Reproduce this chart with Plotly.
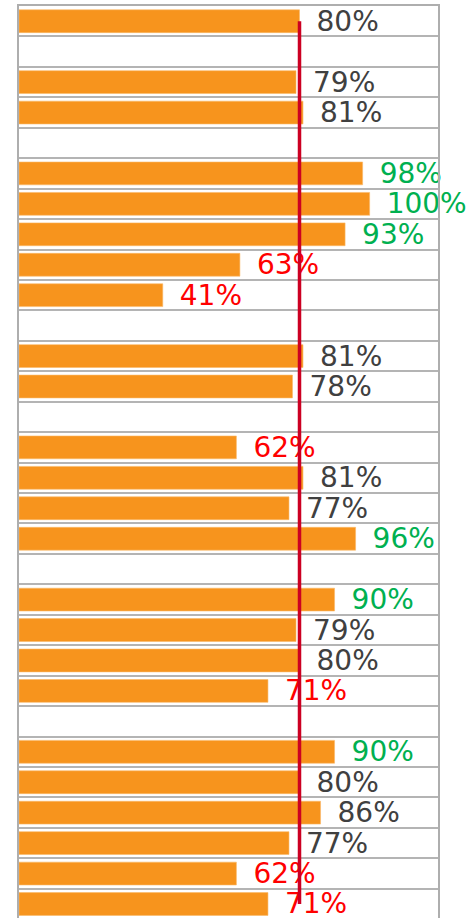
import plotly.graph_objects as go

# Row values (None = spacer row between groups)
values = [80, None, 79, 81, None, 98, 100, 93, 63, 41, None, 81, 78, None,
          62, 81, 77, 96, None, 90, 79, 80, 71, None, 90, 80, 86, 77, 62, 71]
rows = list(range(len(values)))
target = 80
green_min = 90
red_max = 71

def label_color(v):
    if v is None:
        return "#404040"
    if v >= green_min:
        return "#00B050"
    if v <= red_max:
        return "#FF0000"
    return "#404040"

texts = ["\u2002%d%%" % v if v is not None else "" for v in values]
colors = [label_color(v) for v in values]

fig = go.Figure()
fig.add_trace(go.Bar(
    x=values, y=rows, orientation="h",
    marker=dict(color="#F7941D", line=dict(color="#FAB968", width=0.6)),
    text=texts, textposition="outside", constraintext="none",
    textfont=dict(family="DejaVu Sans", size=28, color=colors),
    cliponaxis=False, hoverinfo="skip",
))
valid = [r for r, v in zip(rows, values) if v is not None]
fig.add_trace(go.Scatter(
    x=[target, target], y=[valid[0], valid[-1]], mode="lines",
    line=dict(color="#CC0022", width=3.5), hoverinfo="skip",
))

fig.update_layout(
    width=467, height=918,
    margin=dict(l=19, r=29, t=6, b=0),
    paper_bgcolor="white", plot_bgcolor="white",
    showlegend=False, bargap=0.25,
    font=dict(family="DejaVu Sans"),
)
fig.update_xaxes(range=[0, 119.5], showgrid=False, zeroline=False,
                 showticklabels=False, ticks="", side="top",
                 showline=True, linecolor="#AEAEAE", linewidth=2)
fig.update_yaxes(range=[29.46, -0.5], tick0=0.5, dtick=1,
                 showticklabels=False, ticks="", zeroline=False,
                 showgrid=True, gridcolor="#B4B4B4", gridwidth=2,
                 showline=True, mirror=True, linecolor="#AEAEAE", linewidth=2)

fig.write_html("out.html", config={"displayModeBar": False},
               post_script="document.body.style.margin='0';document.body.style.overflow='hidden';")
